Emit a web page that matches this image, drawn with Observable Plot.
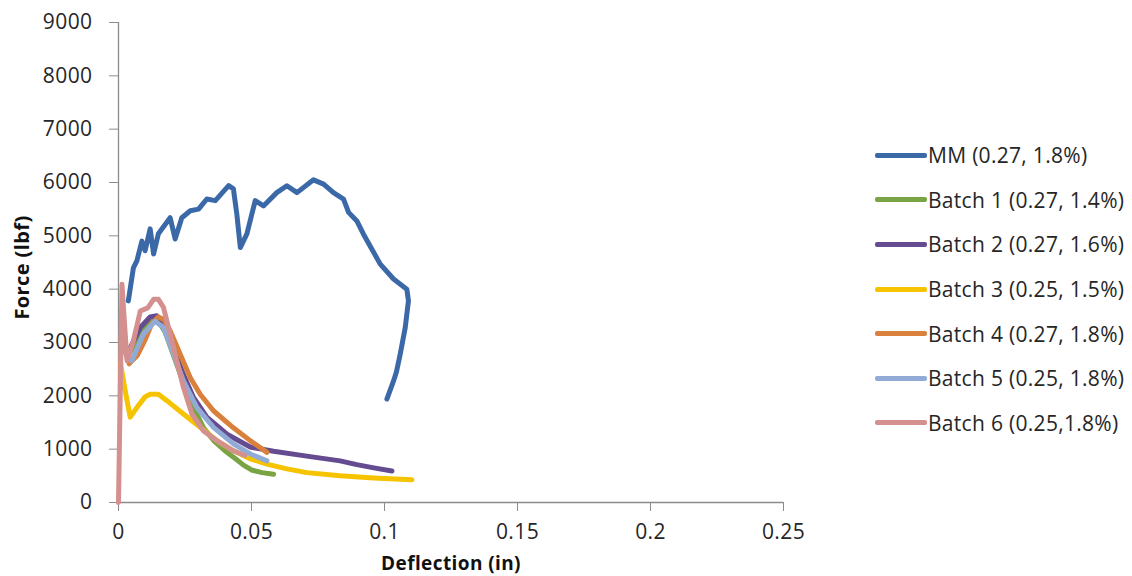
<!DOCTYPE html>
<html>
<head>
<meta charset="utf-8">
<script src="https://cdn.jsdelivr.net/npm/d3@7"></script>
<script src="https://cdn.jsdelivr.net/npm/@observablehq/plot@0.6"></script>
<style>
  html, body { margin: 0; padding: 0; background: #fff; }
  #wrap { position: relative; width: 1132px; height: 576px; font-family: "Open Sans", sans-serif; }
  #chart { position: absolute; left: 0; top: 0; }
  #chart svg text { letter-spacing: 0.4px; }
  #legend { position: absolute; left: 875px; top: 133px; }
  .row { display: flex; align-items: center; height: 44.6px; }
  .sw { width: 52px; height: 5px; border-radius: 2px; margin-right: 1px; }
  .lab { font-size: 21px; letter-spacing: 0.3px; color: #262626; white-space: nowrap; }
</style>
</head>
<body>
<div id="wrap"><div id="chart"></div><div id="legend"></div></div>
<script>
const seriesNames = ["MM (0.27, 1.8%)", "Batch 1 (0.27, 1.4%)", "Batch 2 (0.27, 1.6%)", "Batch 3 (0.25, 1.5%)", "Batch 4 (0.27, 1.8%)", "Batch 5 (0.25, 1.8%)", "Batch 6 (0.25,1.8%)"];
const seriesColors = ["#3b69a8", "#7aa344", "#654b90", "#f6c300", "#d9813c", "#91abd6", "#d4908e"];

const mmX = [0.0037,0.0056,0.0069,0.0088,0.0100,0.0119,0.0132,0.0150,0.0194,0.0213,0.0238,0.0270,0.0301,0.0332,0.0364,0.0414,0.0432,0.0445,0.0458,0.0483,0.0514,0.0545,0.0595,0.0633,0.0671,0.0733,0.0771,0.0808,0.0846,0.0865,0.0896,0.0921,0.0984,0.1034,0.1084,0.1090,0.1078,0.1059,0.1045,0.1034,0.1009];
const mmY = [3780,4400,4530,4900,4720,5130,4660,5040,5340,4940,5340,5470,5500,5690,5660,5940,5880,5400,4780,5040,5660,5560,5810,5940,5810,6050,5970,5810,5690,5440,5280,5030,4470,4190,4000,3780,3280,2780,2450,2280,1940];

const b1X = [0.0035,0.0060,0.0090,0.0125,0.0150,0.0175,0.0200,0.0240,0.0280,0.0320,0.0360,0.0400,0.0440,0.0470,0.0500,0.0540,0.0583];
const b1Y = [2750,2950,3250,3430,3400,3200,2850,2300,1800,1400,1150,970,820,700,610,560,530];

const b2X = [0.0044,0.0082,0.0119,0.0144,0.0169,0.0207,0.0244,0.0282,0.0332,0.0408,0.0495,0.0583,0.0708,0.0833,0.0896,0.0960,0.1028];
const b2Y = [2900,3280,3480,3500,3350,2900,2400,1970,1600,1280,1040,960,870,780,710,650,590];

const b3X = [0.0008,0.0025,0.0044,0.0069,0.0100,0.0119,0.0150,0.0182,0.0244,0.0307,0.0370,0.0432,0.0495,0.0558,0.0633,0.0708,0.0833,0.0959,0.1103];
const b3Y = [2600,2100,1600,1780,1980,2030,2030,1910,1660,1410,1160,970,820,720,630,560,500,460,425];

const b4X = [0.0040,0.0070,0.0100,0.0125,0.0150,0.0170,0.0194,0.0232,0.0270,0.0307,0.0357,0.0432,0.0495,0.0558];
const b4Y = [2600,2750,3050,3350,3480,3430,3220,2780,2340,2030,1720,1400,1160,940];

const b5X = [0.0015,0.0032,0.0050,0.0094,0.0138,0.0169,0.0207,0.0244,0.0295,0.0357,0.0432,0.0495,0.0558];
const b5Y = [2950,2720,2660,3160,3400,3280,2780,2280,1780,1410,1100,910,780];

const b6X = [0,0.0013,0.0022,0.0032,0.0056,0.0082,0.0110,0.0132,0.0150,0.0169,0.0194,0.0219,0.0244,0.0276,0.0320,0.0370,0.0432,0.0475];
const b6Y = [0,4090,3400,2660,3030,3590,3650,3810,3810,3660,3160,2660,2160,1660,1340,1160,970,880];

const xTicks = [0, 0.05, 0.1, 0.15, 0.2, 0.25];
const xTickLabels = ["0", "0.05", "0.1", "0.15", "0.2", "0.25"];
const yTicks = [0,1000,2000,3000,4000,5000,6000,7000,8000,9000];
const yTickLabels = ["0","1000","2000","3000","4000","5000","6000","7000","8000","9000"];

const seriesX = [mmX, b1X, b2X, b3X, b4X, b5X, b6X];
const seriesY = [mmY, b1Y, b2Y, b3Y, b4Y, b5Y, b6Y];
const rows = [];
seriesNames.forEach((name, i) => {
  seriesX[i].forEach((x, j) => rows.push({series: name, x, y: seriesY[i][j]}));
});

const axisGray = "#8c8c8c";
const xFmt = d => xTickLabels[xTicks.indexOf(d)];
const yFmt = d => yTickLabels[yTicks.indexOf(d)];
const chart = Plot.plot({
  width: 860,
  height: 576,
  marginLeft: 118,
  marginRight: 77,
  marginTop: 22,
  marginBottom: 74,
  style: {fontFamily: "Open Sans, sans-serif", fontSize: "21px", color: "#262626", background: "#fff"},
  x: {domain: [0, 0.25], label: null},
  y: {domain: [0, 9000], label: null},
  color: {domain: seriesNames, range: seriesColors},
  marks: [
    Plot.axisX({ticks: xTicks, tickFormat: xFmt, tickSize: 9, tickPadding: 13, stroke: axisGray, strokeOpacity: 1, label: null, fontSize: 21}),
    Plot.axisY({ticks: yTicks, tickFormat: yFmt, tickSize: 9, tickPadding: 17, stroke: axisGray, strokeOpacity: 1, label: null, fontSize: 21}),
    Plot.ruleY([0], {stroke: axisGray, strokeWidth: 1.3}),
    Plot.ruleX([0], {stroke: axisGray, strokeWidth: 1.3}),
    Plot.line(rows, {x: "x", y: "y", z: "series", stroke: "series", strokeWidth: 5, strokeLinejoin: "round", strokeLinecap: "round", curve: "linear"}),
    Plot.text(["Deflection (in)"], {frameAnchor: "bottom", dy: 67, text: d => d, fontWeight: "bold", fontSize: 19, fill: "#111"}),
    Plot.text(["Force (lbf)"], {frameAnchor: "left", textAnchor: "middle", dx: -96, dy: 5, rotate: -90, text: d => d, fontWeight: "bold", fontSize: 20, fill: "#111"})
  ]
});
document.getElementById("chart").appendChild(chart);

const legend = document.getElementById("legend");
seriesNames.forEach((name, i) => {
  const row = document.createElement("div");
  row.className = "row";
  const sw = document.createElement("div");
  sw.className = "sw";
  sw.style.background = seriesColors[i];
  const lab = document.createElement("span");
  lab.className = "lab";
  lab.textContent = name;
  row.appendChild(sw);
  row.appendChild(lab);
  legend.appendChild(row);
});
</script>
</body>
</html>
